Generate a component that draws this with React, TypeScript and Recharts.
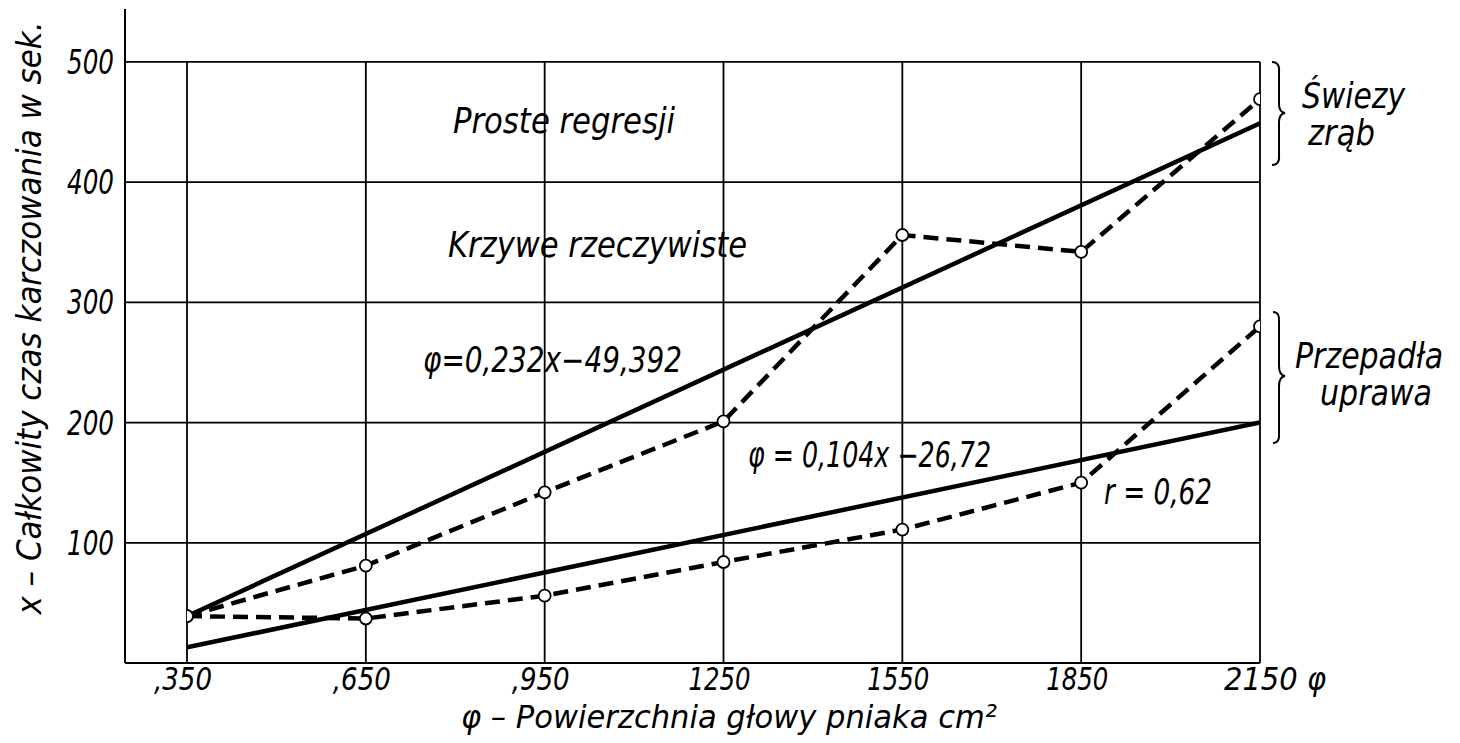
import React from 'react';
import { LineChart, Line, XAxis, YAxis, ReferenceLine } from 'recharts';

const categories = [350, 650, 950, 1250, 1550, 1850, 2150];
const tickLabels = [',350', ',650', ',950', '1250', '1550', '1850', '2150 φ'];
const freshActual = [39, 81, 142, 201, 356, 342, 469];
const failedActual = [39, 37, 56, 84, 111, 150, 280];
const regressionX = [350, 2150];
const freshRegression = [39, 449];
const failedRegression = [13, 200];
const yTicks = [100, 200, 300, 400, 500];

const FONT = "'Liberation Sans Narrow', 'DejaVu Sans Condensed', 'Liberation Sans', sans-serif";

const actualData = categories.map((x, i) => ({ x, fresh: freshActual[i], failed: failedActual[i] }));
const regressionData = regressionX.map((x, i) => ({ x, fresh: freshRegression[i], failed: failedRegression[i] }));

const textStyle = { fontFamily: FONT, fontStyle: 'italic' as const, fill: '#000' };

const XTick = (props: any) => {
  const { x, y, payload } = props;
  const idx = categories.indexOf(payload.value);
  const label = idx >= 0 ? tickLabels[idx] : String(payload.value);
  if (idx === categories.length - 1) {
    return (
      <text x={x - 36} y={y + 27} textAnchor="start" fontSize={32} textLength={102} lengthAdjust="spacingAndGlyphs" style={textStyle}>
        {label}
      </text>
    );
  }
  const len = label.startsWith(',') ? 58 : 62;
  return (
    <text x={x - 4} y={y + 27} textAnchor="middle" fontSize={32} textLength={len} lengthAdjust="spacingAndGlyphs" style={textStyle}>
      {label}
    </text>
  );
};

const YTick = (props: any) => {
  const { x, y, payload } = props;
  return (
    <text x={x - 11} y={y + 12} textAnchor="end" fontSize={34} textLength={47} lengthAdjust="spacingAndGlyphs" style={textStyle}>
      {payload.value}
    </text>
  );
};

const OpenDot = (props: any) => {
  const { cx, cy, index } = props;
  if (cx == null || cy == null) return <g key={index} />;
  return <circle key={index} cx={cx} cy={cy} r={6} fill="#fff" stroke="#000" strokeWidth={1.8} />;
};

const Ann = ({ x, y, len, size = 35, children }: any) => (
  <text x={x} y={y} fontSize={size} textLength={len} lengthAdjust="spacingAndGlyphs" style={textStyle}>
    {children}
  </text>
);

export default function App() {
  return (
    <div style={{ position: 'absolute', left: 0, top: 0, width: 1460, height: 743, background: '#fff', overflow: 'hidden' }}>
      <LineChart width={1460} height={743} margin={{ top: 9, right: 200, bottom: 0, left: 0 }}>
        <XAxis
          dataKey="x"
          type="number"
          domain={[350, 2150]}
          ticks={categories}
          padding={{ left: 62, right: 0 }}
          height={80}
          axisLine={{ stroke: '#000', strokeWidth: 2 }}
          tickLine={false}
          tickSize={0}
          tickMargin={0}
          tick={<XTick />}
          allowDataOverflow
        />
        <YAxis
          type="number"
          domain={[0, 544]}
          ticks={yTicks}
          width={125}
          axisLine={{ stroke: '#000', strokeWidth: 2 }}
          tickLine={false}
          tickSize={0}
          tickMargin={0}
          tick={<YTick />}
          allowDataOverflow
        />
        {yTicks.map((v) => (
          <ReferenceLine key={'h' + v} y={v} stroke="#000" strokeWidth={1.8} ifOverflow="visible" />
        ))}
        {categories.map((c) => (
          <ReferenceLine
            key={'v' + c}
            segment={[{ x: c, y: 0 }, { x: c, y: 500 }]}
            stroke="#000"
            strokeWidth={1.8}
            ifOverflow="visible"
          />
        ))}
        <Line data={regressionData} dataKey="fresh" stroke="#000" strokeWidth={4.5} dot={false} isAnimationActive={false} />
        <Line data={regressionData} dataKey="failed" stroke="#000" strokeWidth={4.5} dot={false} isAnimationActive={false} />
        <Line data={actualData} dataKey="fresh" stroke="#000" strokeWidth={4.5} strokeDasharray="15 8" dot={<OpenDot />} isAnimationActive={false} />
        <Line data={actualData} dataKey="failed" stroke="#000" strokeWidth={4.5} strokeDasharray="15 8" dot={<OpenDot />} isAnimationActive={false} />
      </LineChart>
      <svg width={1460} height={743} style={{ position: 'absolute', left: 0, top: 0, pointerEvents: 'none' }}>
        <text
          transform="translate(41,318) rotate(-90)"
          textAnchor="middle"
          fontSize={34}
          textLength={593}
          lengthAdjust="spacingAndGlyphs"
          style={textStyle}
        >
          x – Całkowity czas karczowania w sek.
        </text>
        <text x={729} y={728} textAnchor="middle" fontSize={32} textLength={536} lengthAdjust="spacingAndGlyphs" style={textStyle}>
          φ – Powierzchnia głowy pniaka cm²
        </text>
        <Ann x={453} y={133} len={222}>Proste regresji</Ann>
        <Ann x={448} y={257} len={299}>Krzywe rzeczywiste</Ann>
        <Ann x={423} y={372} len={259}>φ=0,232x−49,392</Ann>
        <Ann x={748} y={467} len={243}>φ = 0,104x −26,72</Ann>
        <Ann x={1104} y={504} len={108}>r = 0,62</Ann>
        <Ann x={1302} y={108} len={103}>Świezy</Ann>
        <Ann x={1308} y={145} len={67}>zrąb</Ann>
        <Ann x={1295} y={368} len={148}>Przepadła</Ann>
        <Ann x={1320} y={405} len={112}>uprawa</Ann>
        <path
          d="M1272,62 Q1280,62 1279,72 L1279,104 Q1279,112 1285,113 Q1279,114 1279,122 L1279,155 Q1280,165 1272,165"
          fill="none"
          stroke="#000"
          strokeWidth={2}
        />
        <path
          d="M1273,312 Q1280,312 1279,322 L1279,366 Q1279,375 1285,376 Q1279,377 1279,386 L1279,433 Q1280,443 1273,443"
          fill="none"
          stroke="#000"
          strokeWidth={2}
        />
      </svg>
    </div>
  );
}
